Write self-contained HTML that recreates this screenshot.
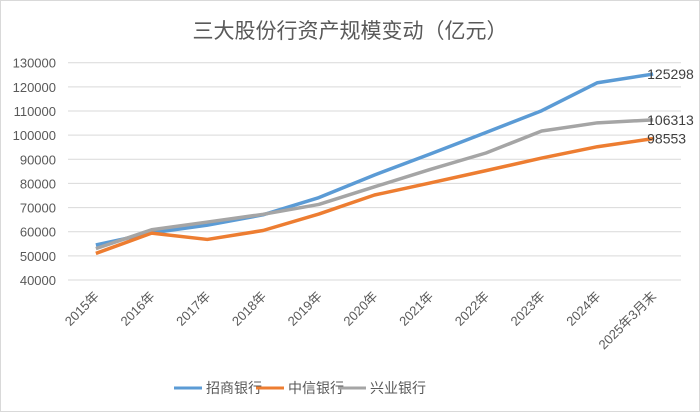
<!DOCTYPE html>
<html><head><meta charset="utf-8"><style>
body{margin:0;background:#fff}
svg text{font-family:"Liberation Sans","Noto Sans CJK SC",sans-serif}
</style></head><body>
<svg id="chart" width="700" height="413" xmlns="http://www.w3.org/2000/svg">
<rect x="0.5" y="0.5" width="699" height="411" fill="#fff" stroke="#d9d9d9"/>
<text x="350" y="38" text-anchor="middle" font-size="21" fill="#595959">三大股份行资产规模变动（亿元）</text>
<g id="grid"></g><g id="ylabels"></g><g id="xlabels"></g><g id="series"></g>
<g>
<line x1="174" y1="388" x2="202" y2="388" stroke="#5b9bd5" stroke-width="3"/>
<text x="206" y="393" font-size="14" fill="#595959">招商银行</text>
<line x1="256" y1="388" x2="284" y2="388" stroke="#ed7d31" stroke-width="3"/>
<text x="288" y="393" font-size="14" fill="#595959">中信银行</text>
<line x1="338" y1="388" x2="366" y2="388" stroke="#a5a5a5" stroke-width="3"/>
<text x="370" y="393" font-size="14" fill="#595959">兴业银行</text>
</g>
</svg>
<script>
const categories=["2015年","2016年","2017年","2018年","2019年","2020年","2021年","2022年","2023年","2024年","2025年3月末"];
const zhaoshang=[54500,59500,62700,67000,74100,83500,92200,101100,110100,121700,125298];
const zhongxin=[51000,59400,56800,60500,67300,75200,80200,85300,90500,95200,98553];
const xingye=[53000,60800,64000,67200,71300,78600,85800,92600,101700,105100,106313];
const yTicks=[40000,50000,60000,70000,80000,90000,100000,110000,120000,130000];
const NS="http://www.w3.org/2000/svg";
const x0=68,x1=681,yTop=62.7,yBot=280,vMin=40000,vMax=130000;
const band=(x1-x0)/categories.length;
const xs=i=>x0+band*(i+0.5);
const ys=v=>yBot-(v-vMin)/(vMax-vMin)*(yBot-yTop);
function mk(tag,attrs,parent){const e=document.createElementNS(NS,tag);for(const k in attrs)e.setAttribute(k,attrs[k]);parent.appendChild(e);return e;}
const grid=document.getElementById('grid'),yl=document.getElementById('ylabels'),xl=document.getElementById('xlabels'),ser=document.getElementById('series');
yTicks.forEach(t=>{
 const l=mk('line',{x1:x0,x2:x1,y1:ys(t),y2:ys(t),stroke:'#d9d9d9','stroke-width':1},grid);
 
 
 const tx=mk('text',{x:56,y:ys(t)+5,'text-anchor':'end','font-size':13,fill:'#595959'},yl);
 tx.textContent=t;
 
 
});
categories.forEach((c,i)=>{
 const cx=xs(i)+4,cy=297;
 const tx=mk('text',{x:cx,y:cy,'text-anchor':'end','font-size':13,fill:'#595959',transform:`rotate(-45 ${cx} ${cy})`},xl);
 tx.textContent=c;
 
 
});
[[zhaoshang,'#5b9bd5','series-zhaoshang'],[zhongxin,'#ed7d31','series-zhongxin'],[xingye,'#a5a5a5','series-xingye']].forEach(([d,col,nm])=>{
 const p=mk('polyline',{points:d.map((v,i)=>xs(i)+','+ys(v)).join(' '),fill:'none',stroke:col,'stroke-width':3.5,'stroke-linejoin':'round'},ser);
 
 
 const last=d.length-1;
 const tx=mk('text',{x:xs(last)-6,y:ys(d[last])+5,'font-size':14,fill:'#404040'},ser);
 tx.textContent=d[last];
 
 
});
</script>
</body></html>
